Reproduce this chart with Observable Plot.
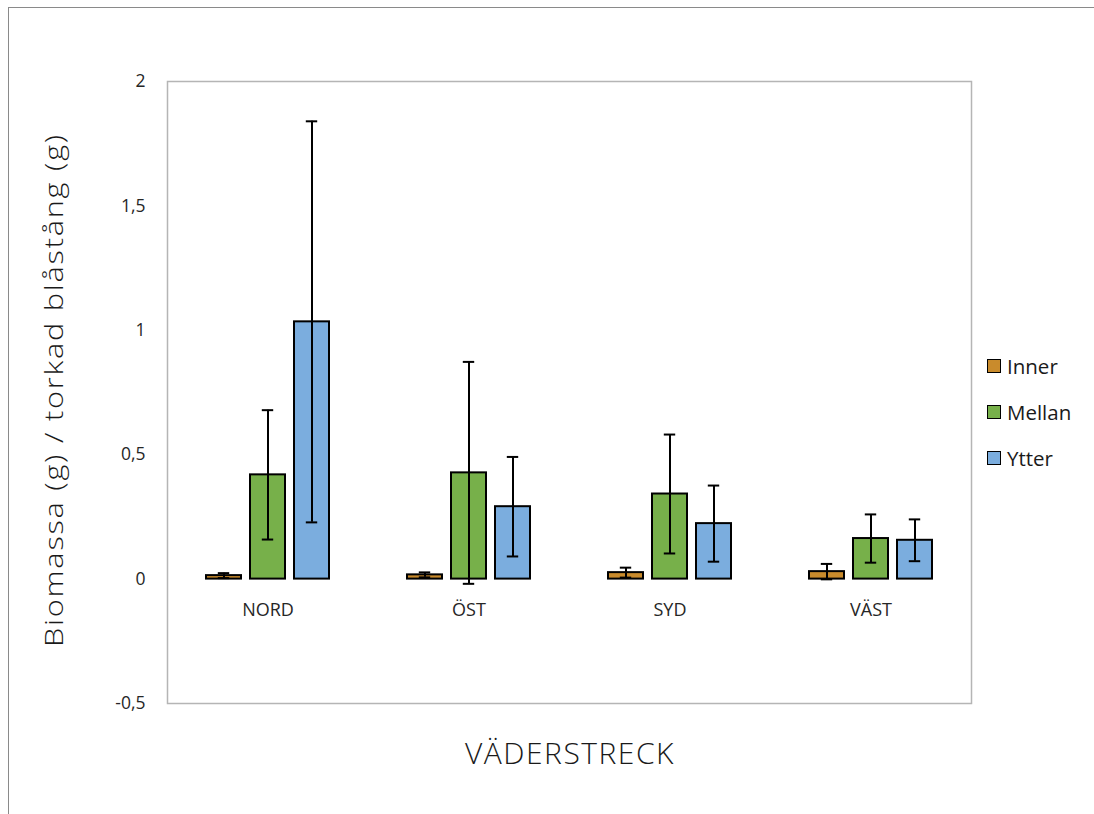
<!DOCTYPE html>
<html>
<head>
<meta charset="utf-8">
<script src="https://cdn.jsdelivr.net/npm/d3@7"></script>
<script src="https://cdn.jsdelivr.net/npm/@observablehq/plot@0.6"></script>
<style>
  html, body { margin: 0; padding: 0; background: #fff; overflow: hidden; }
  #wrap { position: relative; width: 1094px; height: 814px; font-family: "Open Sans", sans-serif; }
  #border { position: absolute; left: 8px; top: 7px; width: 1200px; height: 900px; border: 1.5px solid #8a8a8a; }
  #chart { position: absolute; left: 0; top: 0; }
  #ytitle { position: absolute; left: 53px; top: 390px; transform: translate(-50%, -50%) rotate(-90deg) scaleX(1.18);
            white-space: nowrap; font-size: 26px; letter-spacing: 1.5px; font-weight: 300; color: #1a1a1a; }
  #xtitle { position: absolute; left: 570px; top: 752px; transform: translate(-50%, -50%);
            white-space: nowrap; font-size: 30px; letter-spacing: 1.5px; font-weight: 300; color: #1a1a1a; }
  #legend { position: absolute; left: 987px; top: 343px; }
  .item { display: flex; align-items: center; height: 46px; font-size: 20.5px; color: #1a1a1a; }
  .sw { width: 12px; height: 12px; border: 1.6px solid #000; margin-right: 6px; }
</style>
</head>
<body>
<div id="wrap">
  <div id="border"></div>
  <div id="chart"></div>
  <div id="ytitle">Biomassa (g) / torkad blåstång (g)</div>
  <div id="xtitle">VÄDERSTRECK</div>
  <div id="legend"></div>
</div>
<script>
// Compass directions and zones along the shore
const categories = ["NORD", "ÖST", "SYD", "VÄST"];
const series = ["Inner", "Mellan", "Ytter"];
const colors = ["#c98b2c", "#77b04a", "#7badde"];

// Mean biomass per direction (rows) and zone (columns)
const meanInner  = [0.014, 0.017, 0.026, 0.030];
const meanMellan = [0.419, 0.427, 0.342, 0.163];
const meanYtter  = [1.034, 0.291, 0.223, 0.156];

// Standard deviation (error bars)
const sdInner  = [0.010, 0.010, 0.020, 0.031];
const sdMellan = [0.260, 0.446, 0.239, 0.097];
const sdYtter  = [0.806, 0.200, 0.153, 0.084];

const yTicks = [-0.5, 0, 0.5, 1, 1.5, 2];
const yTickLabels = ["-0,5", "0", "0,5", "1", "1,5", "2"];

const means = [meanInner, meanMellan, meanYtter];
const sds = [sdInner, sdMellan, sdYtter];
const rows = [];
categories.forEach((c, i) => {
  series.forEach((s, j) => {
    rows.push({dir: c, zone: s, value: means[j][i], sd: sds[j][i]});
  });
});

const fontFamily = "'Open Sans', sans-serif";

const chart = Plot.plot({
  width: 1094,
  height: 814,
  marginLeft: 166,
  marginRight: 122,
  marginTop: 81,
  marginBottom: 111,
  style: {fontFamily, fontSize: "17.5px", color: "#262626", background: "transparent"},
  fx: {domain: categories, padding: 0, axis: null, label: null},
  x: {domain: series, paddingInner: 0.2, paddingOuter: 0.865, axis: null, label: null},
  y: {domain: [-0.5, 2], ticks: yTicks, tickFormat: d => yTickLabels[yTicks.indexOf(d)],
      tickSize: 0, tickPadding: 22, label: null},
  color: {domain: series, range: colors},
  marks: [
    Plot.frame({facet: "super", stroke: "#b5b5b5", strokeWidth: 1.5}),
    Plot.barY(rows, {fx: "dir", x: "zone", y: "value", fill: "zone", stroke: "#000", strokeWidth: 2}),
    Plot.ruleX(rows, {fx: "dir", x: "zone", y1: d => d.value - d.sd, y2: d => d.value + d.sd,
                      stroke: "#000", strokeWidth: 2}),
    Plot.tickY(rows, {fx: "dir", x: "zone", y: d => d.value + d.sd, stroke: "#000", strokeWidth: 2, inset: 11.8}),
    Plot.tickY(rows, {fx: "dir", x: "zone", y: d => d.value - d.sd, stroke: "#000", strokeWidth: 2, inset: 11.8}),
    Plot.text(categories, {fx: d => d, y: () => 0, text: d => d, frameAnchor: "middle", dy: 31,
                           fontSize: 18, fill: "#262626"})
  ]
});
document.getElementById("chart").appendChild(chart);

// Legend swatches
const legend = document.getElementById("legend");
series.forEach((s, j) => {
  const item = document.createElement("div");
  item.className = "item";
  const sw = document.createElement("div");
  sw.className = "sw";
  sw.style.background = colors[j];
  const label = document.createElement("span");
  label.textContent = s;
  item.appendChild(sw);
  item.appendChild(label);
  legend.appendChild(item);
});
</script>
</body>
</html>
